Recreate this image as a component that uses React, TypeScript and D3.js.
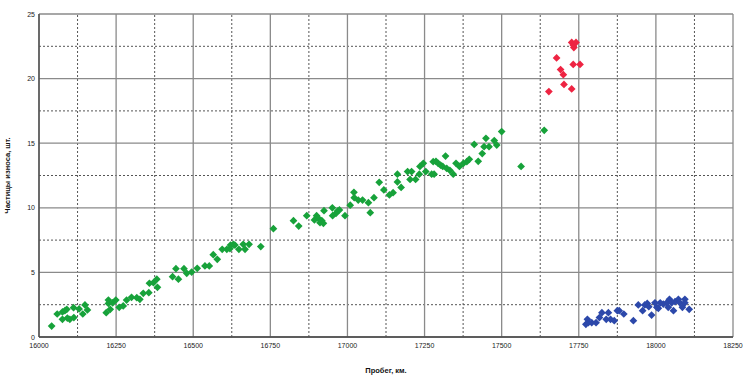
import React from 'react';
import * as d3 from 'd3';

// пробег, км / частицы износа, шт.
const greenKm = [
  16041, 16059, 16076, 16084, 16090, 16076, 16092, 16100, 16113, 16112, 16130, 16149, 16142, 16157,
  16218, 16231, 16225, 16225, 16239, 16249, 16260, 16273, 16284, 16300, 16317, 16327, 16338, 16356,
  16358, 16371, 16382, 16384, 16433, 16444, 16452, 16470, 16479, 16495,
  16513, 16538, 16552, 16565, 16578, 16594, 16609, 16619, 16621, 16630, 16635, 16648, 16662, 16668,
  16681, 16719, 16760, 16825, 16842, 16868, 16893, 16900, 16906, 16911, 16917, 16922, 16924, 16951,
  16952, 16963, 16968, 16974, 16992, 17009, 17021, 17022, 17035, 17049, 17068, 17074, 17086, 17103,
  17118, 17136, 17148, 17162, 17162, 17174, 17195, 17208, 17203, 17221, 17233, 17235, 17246, 17254,
  17273, 17281, 17278, 17287, 17294, 17302, 17309, 17318, 17322, 17332, 17343, 17352, 17363, 17376,
  17387, 17395, 17411, 17424, 17437, 17443, 17449, 17459, 17476, 17484, 17500, 17563, 17638
];
const greenCount = [
  0.85, 1.78, 1.94, 2.04, 2.14, 1.37, 1.47, 1.37, 1.5, 2.27, 2.17, 2.48, 1.78, 2.09,
  1.88, 2.14, 2.86, 2.6, 2.65, 2.86, 2.3, 2.4, 2.86, 3.07, 3.04, 2.92, 3.38, 3.43,
  4.16, 4.2, 4.47, 3.85, 4.67, 5.29, 4.47, 5.29, 4.93, 5.03,
  5.32, 5.5, 5.5, 6.37, 6.01, 6.79, 6.79, 6.84, 7.12, 7.17, 7.12, 6.79, 7.17, 6.79,
  7.17, 7.0, 8.38, 9.0, 8.59, 9.39, 9.06, 9.39, 9.19, 8.85, 9.0, 8.8, 9.78, 10.0,
  9.39, 9.57, 9.75, 9.83, 9.39, 10.2, 11.2, 10.78, 10.6, 10.6, 10.4, 9.62, 10.78, 11.97,
  11.38, 11.0, 11.17, 12.6, 12.0, 11.58, 12.8, 12.8, 12.2, 12.2, 12.6, 13.2, 13.44, 12.8,
  12.6, 12.6, 13.57, 13.6, 13.44, 13.3, 13.2, 14.0, 13.05, 12.9, 12.6, 13.44, 13.2, 13.44,
  13.57, 13.75, 14.9, 13.6, 14.2, 14.73, 15.38, 14.73, 15.2, 14.86, 15.9, 13.2, 16.0
];

const redKm = [17653, 17678, 17691, 17700, 17702, 17727, 17727, 17732, 17734, 17741, 17732, 17754];
const redCount = [19.0, 21.6, 20.7, 20.3, 19.55, 19.2, 22.8, 22.6, 22.4, 22.8, 21.1, 21.1];

const blueKm = [
  17773, 17778, 17781, 17792, 17806, 17817, 17825, 17839, 17846, 17853, 17865, 17875, 17881, 17896,
  17927, 17943, 17957, 17964, 17972, 17977, 17986, 17997, 18003, 18008, 18014, 18024, 18035, 18040,
  18044, 18051, 18057, 18062, 18073, 18078, 18086, 18094, 18094, 18108
];
const blueCount = [
  0.98, 1.37, 1.11, 1.11, 1.11, 1.5, 1.88, 1.37, 1.88, 1.37, 1.26, 2.04, 2.04, 1.78,
  1.26, 2.48, 2.04, 2.48, 2.6, 2.35, 1.7, 2.65, 2.3, 2.22, 2.65, 2.55, 2.65, 2.3,
  2.92, 2.65, 2.04, 2.73, 2.92, 2.65, 2.3, 2.92, 2.65, 2.14
];

const xTicks = [16000, 16250, 16500, 16750, 17000, 17250, 17500, 17750, 18000, 18250];
const yTicks = [0, 5, 10, 15, 20, 25];

const W = 745;
const H = 386;
const margin = { top: 14, right: 12, bottom: 49, left: 39 };

export default function App() {
  const x = d3.scaleLinear().domain([16000, 18250]).range([margin.left, W - margin.right]);
  const y = d3.scaleLinear().domain([0, 25]).range([H - margin.bottom, margin.top]);

  const minorX = d3.range(16125, 18250, 250);
  const minorY = d3.range(2.5, 25, 5);

  const marker = d3.symbol().type(d3.symbolSquare).size(30)() as string;

  const series = [
    { km: greenKm, count: greenCount, color: '#17a23a' },
    { km: redKm, count: redCount, color: '#ee2442' },
    { km: blueKm, count: blueCount, color: '#2c48aa' },
  ];

  const font = '"Liberation Sans", Arial, sans-serif';

  return (
    <svg width={W} height={H} style={{ position: 'absolute', left: 0, top: 0, background: '#fff' }}>
      <g>
        {minorX.map(v => (
          <line key={'mx' + v} x1={x(v)} x2={x(v)} y1={y(0)} y2={y(25)}
                stroke="#555" strokeWidth={1} strokeDasharray="2,2" />
        ))}
        {minorY.map(v => (
          <line key={'my' + v} x1={x(16000)} x2={x(18250)} y1={y(v)} y2={y(v)}
                stroke="#555" strokeWidth={1} strokeDasharray="2,2" />
        ))}
        {xTicks.map(v => (
          <line key={'gx' + v} x1={x(v)} x2={x(v)} y1={y(0)} y2={y(25)}
                stroke="#8a8a8a" strokeWidth={1.3} />
        ))}
        {yTicks.map(v => (
          <line key={'gy' + v} x1={x(16000)} x2={x(18250)} y1={y(v)} y2={y(v)}
                stroke="#8a8a8a" strokeWidth={1.3} />
        ))}
        <line x1={x(16000)} x2={x(16000)} y1={y(0)} y2={y(25)} stroke="#444" strokeWidth={1.3} />
        <line x1={x(16000)} x2={x(18250)} y1={y(0)} y2={y(0)} stroke="#444" strokeWidth={1.3} />
      </g>

      {series.map((s, si) => (
        <g key={si} fill={s.color}>
          {s.km.map((k, i) => (
            <path key={i} d={marker}
                  transform={'translate(' + x(k) + ',' + y(s.count[i]) + ') rotate(45)'} />
          ))}
        </g>
      ))}

      <g fontFamily={font} fontSize={7} fill="#222">
        {xTicks.map(v => (
          <text key={'tx' + v} x={x(v)} y={y(0) + 11} textAnchor="middle">{v}</text>
        ))}
        {yTicks.map(v => (
          <text key={'ty' + v} x={x(16000) - 4} y={y(v) + 2.5} textAnchor="end">{v}</text>
        ))}
      </g>

      <text x={(x(16000) + x(18250)) / 2} y={373} textAnchor="middle"
            fontFamily={font} fontSize={7.5} fontWeight="bold" fill="#111">Пробег, км.</text>
      <text transform={'translate(10,' + (y(0) + y(25)) / 2 + ') rotate(-90)'} textAnchor="middle"
            fontFamily={font} fontSize={7.5} fontWeight="bold" fill="#111">Частицы износа, шт.</text>
    </svg>
  );
}
